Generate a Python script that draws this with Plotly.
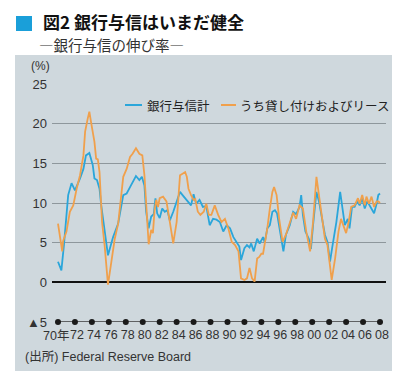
import plotly.graph_objects as go

# ---- data ----
blue_x = [1970.0, 1970.4, 1970.7, 1971.2, 1971.6, 1972.0, 1972.6, 1973.0, 1973.3, 1973.7,
          1974.1, 1974.3, 1974.6, 1974.9, 1975.1, 1975.5, 1975.9, 1976.5, 1977.1, 1977.7,
          1978.1, 1978.5, 1978.9, 1979.2, 1979.6, 1979.9, 1980.2, 1980.4, 1980.7, 1981.0,
          1981.3, 1981.5, 1981.7, 1982.0, 1982.3, 1982.6, 1982.9, 1983.2, 1983.6, 1984.0,
          1984.4, 1984.7, 1985.0, 1985.3, 1985.7, 1986.0, 1986.3, 1986.7, 1987.1, 1987.5,
          1987.9, 1988.3, 1988.7, 1989.1, 1989.5, 1989.9, 1990.3, 1990.7, 1991.05, 1991.4,
          1991.6, 1992.0, 1992.3, 1992.6, 1992.8, 1993.1, 1993.5, 1993.8, 1994.2, 1994.4,
          1994.7, 1995.0, 1995.3, 1995.6, 1995.85, 1996.2, 1996.6, 1996.9, 1997.35, 1997.75,
          1998.1, 1998.5, 1998.7, 1998.9, 1999.2, 1999.6, 1999.85, 2000.1, 2000.5, 2000.8,
          2001.1, 2001.5, 2001.8, 2002.1, 2002.35, 2002.85, 2003.3, 2003.6, 2003.85, 2004.2,
          2004.4, 2004.7, 2005.0, 2005.3, 2005.6, 2005.9, 2006.2, 2006.5, 2006.8, 2007.3,
          2007.6, 2007.8, 2008.0]
blue_y = [2.6, 1.5, 4.7, 11.0, 12.5, 11.6, 13.1, 14.3, 16.0, 16.3,
          14.8, 13.1, 12.9, 11.8, 9.7, 6.4, 3.4, 5.7, 7.4, 11.0,
          11.2, 12.0, 12.9, 13.4, 12.9, 13.3, 12.2, 8.9, 6.8, 8.3,
          8.6, 10.6, 8.7, 8.1, 9.3, 8.9, 9.1, 7.8, 8.9, 10.2,
          11.4, 11.0, 10.6, 10.2, 9.7, 11.1, 9.9, 10.4, 9.5, 9.6,
          7.2, 8.0, 7.9, 7.6, 6.4, 7.2, 6.8, 5.7, 5.1, 4.5,
          2.8, 4.3, 4.7, 4.4, 4.9, 3.9, 5.5, 4.9, 5.7, 5.0,
          6.8, 7.2, 8.9, 9.1, 8.7, 6.4, 3.9, 6.0, 7.2, 8.9,
          8.6, 9.5, 11.0, 8.5, 6.4, 5.5, 4.2, 7.2, 11.4, 10.2,
          8.5, 6.0, 5.1, 2.6, 4.3, 7.6, 11.4, 9.1, 7.2, 8.0,
          6.8, 9.5, 9.5, 10.2, 9.7, 10.6, 9.3, 10.2, 9.7, 8.7,
          9.9, 11.0, 11.2]

orange_x = [1970.0, 1970.5, 1970.6, 1971.0, 1971.4, 1971.8, 1972.2, 1972.6, 1973.0, 1973.2,
            1973.5, 1973.7, 1973.9, 1974.3, 1974.5, 1974.7, 1974.9, 1975.2, 1975.5, 1975.9,
            1976.3, 1976.7, 1977.1, 1977.7, 1978.1, 1978.5, 1978.8, 1979.2, 1979.6, 1979.95,
            1980.2, 1980.4, 1980.7, 1981.0, 1981.2, 1981.4, 1981.6, 1981.8, 1982.0, 1982.4,
            1982.8, 1983.2, 1983.6, 1984.0, 1984.4, 1984.7, 1985.0, 1985.2, 1985.4, 1985.7,
            1986.0, 1986.2, 1986.5, 1986.8, 1987.2, 1987.5, 1987.8, 1988.1, 1988.5, 1988.9,
            1989.3, 1989.7, 1990.1, 1990.5, 1990.9, 1991.3, 1991.6, 1992.0, 1992.3, 1992.6,
            1992.9, 1993.2, 1993.5, 1993.75, 1994.0, 1994.2, 1994.4, 1994.7, 1995.0, 1995.3,
            1995.5, 1995.8, 1996.1, 1996.5, 1996.9, 1997.3, 1997.75, 1998.1, 1998.5, 1998.9,
            1999.3, 1999.75, 2000.1, 2000.5, 2000.8, 2001.1, 2001.5, 2001.8, 2002.1, 2002.3,
            2002.7, 2003.1, 2003.4, 2003.8, 2004.0, 2004.3, 2004.6, 2005.0, 2005.4, 2005.6,
            2005.9, 2006.2, 2006.4, 2006.7, 2007.0, 2007.3, 2007.6, 2007.8, 2008.0]
orange_y = [7.4, 3.9, 5.2, 6.4, 8.9, 9.7, 11.8, 13.5, 16.0, 19.0,
            20.6, 21.5, 20.2, 17.7, 15.6, 15.5, 13.9, 7.6, 4.7, -0.3,
            2.6, 5.5, 7.4, 13.3, 14.3, 15.8, 16.2, 16.9, 16.2, 16.0,
            13.5, 9.7, 4.8, 6.6, 6.2, 9.1, 10.4, 9.5, 10.6, 10.8,
            10.2, 7.6, 4.9, 7.6, 13.5, 13.7, 13.9, 13.3, 11.8, 11.0,
            10.4, 10.5, 8.9, 8.5, 8.9, 9.9, 8.5, 8.5, 9.7, 8.5,
            7.6, 8.0, 6.8, 5.1, 4.7, 3.9, 0.5, 0.3, 0.5, 1.8,
            0.5, 0.1, 3.0, 3.2, 3.6, 3.6, 4.7, 6.8, 9.3, 11.4,
            12.0, 11.0, 8.0, 5.1, 6.0, 7.4, 8.8, 8.0, 9.7, 9.3,
            6.4, 3.9, 7.6, 13.3, 11.0, 8.5, 5.5, 4.7, 1.8, 0.3,
            3.0, 6.4, 8.0, 6.8, 6.2, 7.6, 9.5, 9.7, 10.6, 9.9,
            11.0, 9.7, 10.8, 9.9, 10.8, 9.5, 10.2, 10.2, 10.0]

blue_name = "銀行与信計"
orange_name = "うち貸し付けおよびリース"

x_tick_vals = list(range(1970, 2009, 2))
x_tick_text = ["", "72", "74", "76", "78", "80", "82", "84", "86", "88", "90",
               "92", "94", "96", "98", "00", "02", "04", "06", "08"]
x_first_label = "70年"
y_tick_vals = [0, 5, 10, 15, 20, 25]
y_tick_text = ["0", "5", "10", "15", "20", "25"]
y_min_label = "▲5"

BLUE = "#2ba6da"
ORANGE = "#f0a04c"
PANEL = "#cfd8dd"
GRID = "#8e979c"
TXT = "#333333"
FONT = "Liberation Sans, Arial, Noto Sans CJK JP, sans-serif"
JFONT = "Noto Sans CJK JP, sans-serif"

fig = go.Figure()

# dotted baseline at -5 (axis dots)
fig.add_trace(go.Scatter(
    x=x_tick_vals, y=[-5] * len(x_tick_vals), mode="lines+markers",
    line=dict(color="#3a3a3a", width=1.5),
    marker=dict(color="#1a1a1a", size=6),
    cliponaxis=False, showlegend=False, hoverinfo="skip"))

fig.add_trace(go.Scatter(x=blue_x, y=blue_y, mode="lines", name=blue_name,
                         line=dict(color=BLUE, width=1.8), showlegend=False))
fig.add_trace(go.Scatter(x=orange_x, y=orange_y, mode="lines", name=orange_name,
                         line=dict(color=ORANGE, width=1.8), showlegend=False))

W, H = 400, 373
L, R, T, B = 44, 22, 76, 59
pw, ph = W - L - R, H - T - B


def px_x(p):
    return (p - L) / pw


def px_y(p):
    return (H - B - p) / ph


fig.add_shape(type="rect", xref="paper", yref="paper",
              x0=px_x(7), x1=px_x(390), y0=px_y(363), y1=px_y(47),
              fillcolor=PANEL, line=dict(width=0), layer="below")
# title square
fig.add_shape(type="rect", xref="paper", yref="paper",
              x0=px_x(8), x1=px_x(24), y0=px_y(23), y1=px_y(8),
              fillcolor="#1a9fd9", line=dict(width=0))
# legend swatches
fig.add_shape(type="line", xref="paper", yref="paper",
              x0=px_x(117), x1=px_x(134), y0=px_y(97), y1=px_y(97),
              line=dict(color=BLUE, width=2))
fig.add_shape(type="line", xref="paper", yref="paper",
              x0=px_x(213), x1=px_x(228), y0=px_y(97), y1=px_y(97),
              line=dict(color=ORANGE, width=2))

fig.update_layout(
    width=W, height=H,
    margin=dict(l=L, r=R, t=T, b=B),
    paper_bgcolor="white", plot_bgcolor=PANEL,
    font=dict(family=FONT, color=TXT, size=13),
    xaxis=dict(range=[1969.292, 2008.708], tickvals=x_tick_vals, ticktext=x_tick_text,
               showgrid=False, zeroline=False, showline=False, ticks="", tickangle=0,
               tickfont=dict(size=12.5, color=TXT, family=FONT), ticklabelstandoff=3,
               ticklabelshift=2),
    yaxis=dict(range=[-5, 25], tickvals=y_tick_vals, ticktext=y_tick_text,
               showgrid=True, gridcolor=GRID, gridwidth=1,
               zeroline=True, zerolinecolor="#111111", zerolinewidth=1.5,
               showline=False, ticks="", tickfont=dict(size=13, color=TXT, family=FONT),
               ticklabelstandoff=4),
    showlegend=False,
)

annots = [
    dict(text="<b>図2 銀行与信はいまだ健全</b>", x=px_x(34), y=px_y(13.5), xanchor="left",
         yanchor="middle", font=dict(size=17, color="#111111", family=JFONT)),
    dict(text="―銀行与信の伸び率―", x=px_x(30), y=px_y(37), xanchor="left", yanchor="middle",
         font=dict(size=14.5, color=TXT, family=JFONT)),
    dict(text="(%)", x=px_x(43), y=px_y(58), xanchor="right", yanchor="middle",
         font=dict(size=12, color=TXT, family=FONT)),
    dict(text=y_min_label, x=px_x(40), y=px_y(314), xanchor="right", yanchor="middle",
         font=dict(size=13, color=TXT, family=FONT)),
    dict(text=x_first_label, x=px_x(62), y=px_y(328), xanchor="right", yanchor="middle",
         font=dict(size=12.5, color=TXT, family=FONT)),
    dict(text="(出所) Federal Reserve Board", x=px_x(16), y=px_y(349), xanchor="left",
         yanchor="middle", font=dict(size=12.5, color=TXT, family=FONT)),
    dict(text=blue_name, x=px_x(138), y=px_y(97),
         xanchor="left", yanchor="middle", font=dict(size=12.5, color="#222222", family=JFONT)),
    dict(text=orange_name, x=px_x(231), y=px_y(97),
         xanchor="left", yanchor="middle", font=dict(size=12.5, color="#222222", family=JFONT)),
]
for a in annots:
    a.update(xref="paper", yref="paper", showarrow=False, borderpad=0)
    fig.add_annotation(**a)

fig.write_html("out.html")
